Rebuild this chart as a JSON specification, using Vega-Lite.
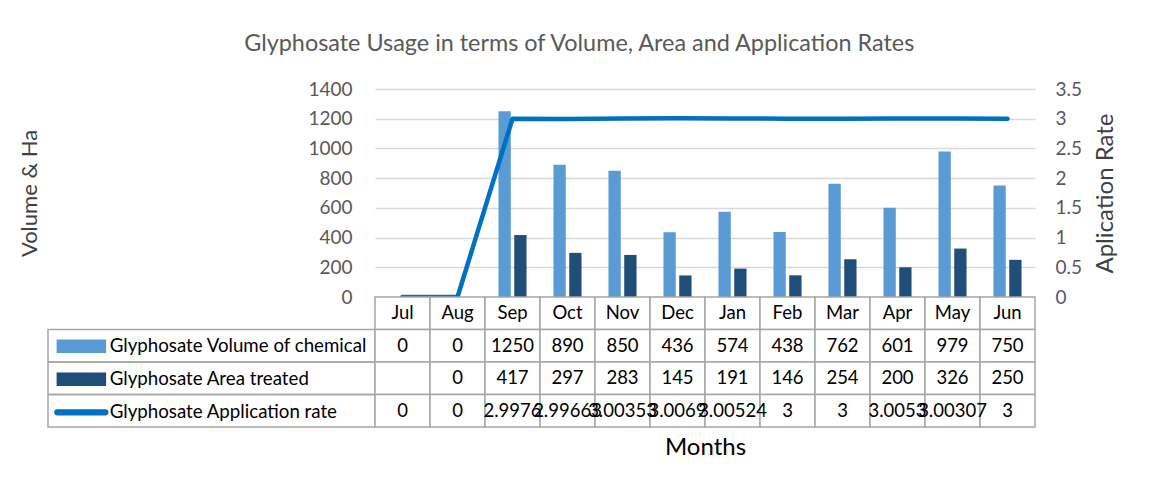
{
  "$schema": "https://vega.github.io/schema/vega-lite/v6.json",
  "padding": {"left": 18, "top": 31, "right": 10, "bottom": 10},
  "config": {"font": "Lato", "view": {"stroke": null}},
  "title": {"text": "Glyphosate Usage in terms of Volume, Area and Application Rates", "fontSize": 23.4, "fontWeight": "normal", "color": "#595959", "anchor": "middle", "offset": 24, "dx": 11},
  "datasets": {
    "tbl": [
      {"month": "Jul", "series": "Glyphosate Volume of chemical", "value": 0},
      {"month": "Aug", "series": "Glyphosate Volume of chemical", "value": 0},
      {"month": "Sep", "series": "Glyphosate Volume of chemical", "value": 1250},
      {"month": "Oct", "series": "Glyphosate Volume of chemical", "value": 890},
      {"month": "Nov", "series": "Glyphosate Volume of chemical", "value": 850},
      {"month": "Dec", "series": "Glyphosate Volume of chemical", "value": 436},
      {"month": "Jan", "series": "Glyphosate Volume of chemical", "value": 574},
      {"month": "Feb", "series": "Glyphosate Volume of chemical", "value": 438},
      {"month": "Mar", "series": "Glyphosate Volume of chemical", "value": 762},
      {"month": "Apr", "series": "Glyphosate Volume of chemical", "value": 601},
      {"month": "May", "series": "Glyphosate Volume of chemical", "value": 979},
      {"month": "Jun", "series": "Glyphosate Volume of chemical", "value": 750},
      {"month": "Jul", "series": "Glyphosate Area treated", "value": null},
      {"month": "Aug", "series": "Glyphosate Area treated", "value": 0},
      {"month": "Sep", "series": "Glyphosate Area treated", "value": 417},
      {"month": "Oct", "series": "Glyphosate Area treated", "value": 297},
      {"month": "Nov", "series": "Glyphosate Area treated", "value": 283},
      {"month": "Dec", "series": "Glyphosate Area treated", "value": 145},
      {"month": "Jan", "series": "Glyphosate Area treated", "value": 191},
      {"month": "Feb", "series": "Glyphosate Area treated", "value": 146},
      {"month": "Mar", "series": "Glyphosate Area treated", "value": 254},
      {"month": "Apr", "series": "Glyphosate Area treated", "value": 200},
      {"month": "May", "series": "Glyphosate Area treated", "value": 326},
      {"month": "Jun", "series": "Glyphosate Area treated", "value": 250},
      {"month": "Jul", "series": "Glyphosate Application rate", "value": 0},
      {"month": "Aug", "series": "Glyphosate Application rate", "value": 0},
      {"month": "Sep", "series": "Glyphosate Application rate", "value": 2.9976},
      {"month": "Oct", "series": "Glyphosate Application rate", "value": 2.99663},
      {"month": "Nov", "series": "Glyphosate Application rate", "value": 3.00353},
      {"month": "Dec", "series": "Glyphosate Application rate", "value": 3.0069},
      {"month": "Jan", "series": "Glyphosate Application rate", "value": 3.00524},
      {"month": "Feb", "series": "Glyphosate Application rate", "value": 3},
      {"month": "Mar", "series": "Glyphosate Application rate", "value": 3},
      {"month": "Apr", "series": "Glyphosate Application rate", "value": 3.0053},
      {"month": "May", "series": "Glyphosate Application rate", "value": 3.00307},
      {"month": "Jun", "series": "Glyphosate Application rate", "value": 3}
    ],
    "months": [
      {"month": "Jul"}, {"month": "Aug"}, {"month": "Sep"}, {"month": "Oct"},
      {"month": "Nov"}, {"month": "Dec"}, {"month": "Jan"}, {"month": "Feb"},
      {"month": "Mar"}, {"month": "Apr"}, {"month": "May"}, {"month": "Jun"}
    ],
    "seriesList": [
      {"series": "Glyphosate Volume of chemical"},
      {"series": "Glyphosate Area treated"},
      {"series": "Glyphosate Application rate"}
    ]
  },
  "columns": 2,
  "spacing": 0,
  "bounds": "flush",
  "align": "each",
  "concat": [
    {
      "width": 327, "height": 208,
      "data": {"values": [{}]},
      "mark": {"type": "text"},
      "encoding": {"text": {"value": ""}}
    },
    {
      "width": 660, "height": 208,
      "data": {"name": "tbl"},
      "layer": [
        {
          "transform": [{"filter": "datum.series !== 'Glyphosate Application rate' && datum.value !== null"}],
          "mark": {"type": "bar"},
          "encoding": {
            "x": {"field": "month", "type": "nominal", "sort": ["Jul","Aug","Sep","Oct","Nov","Dec","Jan","Feb","Mar","Apr","May","Jun"], "scale": {"domain": ["Jul","Aug","Sep","Oct","Nov","Dec","Jan","Feb","Mar","Apr","May","Jun"], "paddingInner": 0.49, "paddingOuter": 0.245}, "axis": null},
            "xOffset": {"field": "series", "type": "nominal", "scale": {"domain": ["Glyphosate Volume of chemical", "Glyphosate Area treated"], "paddingInner": 0.22, "paddingOuter": 0}},
            "y": {"field": "value", "type": "quantitative", "scale": {"domain": [0, 1400], "nice": false},
              "axis": {"values": [0,200,400,600,800,1000,1200,1400], "format": "d", "domain": false, "ticks": false, "grid": true, "gridColor": "#D9D9D9", "gridWidth": 1.5, "labelFontSize": 19, "labelColor": "#595959", "labelPadding": 23, "title": "Volume & Ha", "titleFontSize": 22, "titleFontWeight": "normal", "titleColor": "#404040", "titlePadding": 266}},
            "color": {"field": "series", "type": "nominal",
              "scale": {"domain": ["Glyphosate Volume of chemical", "Glyphosate Area treated", "Glyphosate Application rate"], "range": ["#5B9BD5", "#1F4E79", "#0070C0"]},
              "legend": {"orient": "none", "legendX": 24, "legendY": 248, "title": null, "padding": 0, "symbolSize": 144, "labelFontSize": 18.7, "labelColor": "#000000", "labelLimit": 400, "labelOffset": 19, "rowPadding": 13,
                "encode": {"symbols": {"update": {"shape": {"signal": "datum.value === 'Glyphosate Application rate' ? 'M-4,-0.4H4A0.4,0.4 0 0 1 4,0.4H-4A0.4,0.4 0 0 1 -4,-0.4Z' : 'M-4,-1H4V1H-4Z'"}}}}}}
          }
        },
        {
          "transform": [{"filter": "datum.series === 'Glyphosate Application rate'"}],
          "mark": {"type": "line", "strokeWidth": 4.5, "strokeCap": "round", "strokeJoin": "round"},
          "encoding": {
            "x": {"field": "month", "type": "nominal", "sort": ["Jul","Aug","Sep","Oct","Nov","Dec","Jan","Feb","Mar","Apr","May","Jun"]},
            "y": {"field": "value", "type": "quantitative", "scale": {"domain": [0, 3.5], "nice": false},
              "axis": {"orient": "right", "values": [0,0.5,1,1.5,2,2.5,3,3.5], "labelExpr": "datum.value + ''", "domain": false, "ticks": false, "grid": false, "labelFontSize": 19, "labelColor": "#595959", "labelPadding": 20, "title": "Aplication Rate", "titleAngle": 270, "titleBaseline": "top", "titleFontSize": 24, "titleFontWeight": "normal", "titleColor": "#404040", "titlePadding": 12}},
            "color": {"field": "series", "type": "nominal"}
          }
        }
      ],
      "resolve": {"scale": {"y": "independent"}}
    },
    {
      "width": 327, "height": 130,
      "data": {"name": "seriesList"},
      "mark": {"type": "rect", "fill": "#ffffff", "fillOpacity": 0, "stroke": "#A6A6A6", "strokeWidth": 1.5},
      "encoding": {
        "y": {"field": "series", "type": "nominal", "scale": {"domain": ["Month", "Glyphosate Volume of chemical", "Glyphosate Area treated", "Glyphosate Application rate"], "paddingInner": 0, "paddingOuter": 0}, "axis": null}
      }
    },
    {
      "width": 660, "height": 130,
      "layer": [
        {
          "data": {"name": "months"},
          "mark": {"type": "rect", "fill": "#ffffff", "stroke": "#A6A6A6", "strokeWidth": 1.5},
          "encoding": {
            "x": {"field": "month", "type": "nominal", "sort": ["Jul","Aug","Sep","Oct","Nov","Dec","Jan","Feb","Mar","Apr","May","Jun"], "scale": {"domain": ["Jul","Aug","Sep","Oct","Nov","Dec","Jan","Feb","Mar","Apr","May","Jun"], "paddingInner": 0, "paddingOuter": 0},
              "axis": {"orient": "bottom", "labels": false, "ticks": false, "domain": false, "title": "Months", "titleFontSize": 24, "titleFontWeight": "normal", "titleColor": "#000000", "titlePadding": 8}},
            "y": {"datum": "Month", "type": "nominal", "scale": {"domain": ["Month", "Glyphosate Volume of chemical", "Glyphosate Area treated", "Glyphosate Application rate"], "paddingInner": 0, "paddingOuter": 0}, "axis": null}
          }
        },
        {
          "data": {"name": "months"},
          "mark": {"type": "text", "fontSize": 18.5, "color": "#000000"},
          "encoding": {
            "x": {"field": "month", "type": "nominal", "sort": ["Jul","Aug","Sep","Oct","Nov","Dec","Jan","Feb","Mar","Apr","May","Jun"]},
            "y": {"datum": "Month", "type": "nominal"},
            "text": {"field": "month", "type": "nominal"}
          }
        },
        {
          "data": {"name": "tbl"},
          "mark": {"type": "rect", "fill": "#ffffff", "stroke": "#A6A6A6", "strokeWidth": 1.5},
          "encoding": {
            "x": {"field": "month", "type": "nominal", "sort": ["Jul","Aug","Sep","Oct","Nov","Dec","Jan","Feb","Mar","Apr","May","Jun"]},
            "y": {"field": "series", "type": "nominal"}
          }
        },
        {
          "data": {"name": "tbl"},
          "transform": [{"filter": "datum.value !== null"}],
          "mark": {"type": "text", "fontSize": 18.5, "color": "#000000"},
          "encoding": {
            "x": {"field": "month", "type": "nominal", "sort": ["Jul","Aug","Sep","Oct","Nov","Dec","Jan","Feb","Mar","Apr","May","Jun"]},
            "y": {"field": "series", "type": "nominal"},
            "text": {"field": "value", "type": "nominal"}
          }
        }
      ]
    }
  ]
}
